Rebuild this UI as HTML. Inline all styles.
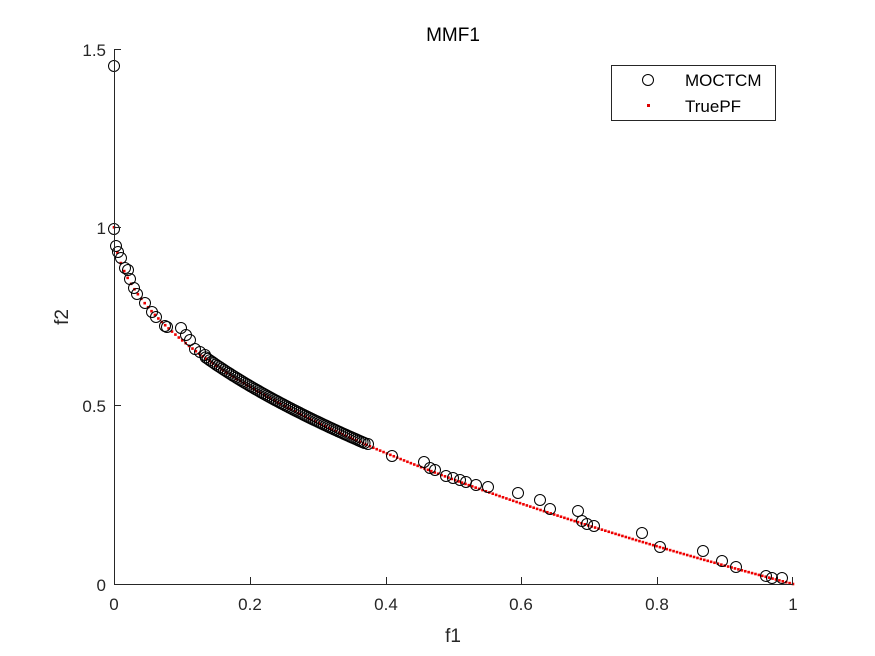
<!DOCTYPE html>
<html><head><meta charset="utf-8"><style>
html,body{margin:0;padding:0;background:#fff;}
svg{display:block;font-family:"Liberation Sans",Arial,sans-serif;}
</style></head><body>
<svg id="s" width="875" height="656" viewBox="0 0 875 656" xmlns="http://www.w3.org/2000/svg">
<rect width="875" height="656" fill="#fff"/>
<g id="pf"></g>
<g id="pts" fill="none" stroke="#000" stroke-width="1"></g>
<g stroke="#262626" stroke-width="1" fill="none">
<line x1="114.5" y1="49" x2="114.5" y2="584.5"/>
<line x1="114" y1="584.5" x2="793" y2="584.5"/>
<line x1="114" y1="49.5" x2="121" y2="49.5"/>
<line x1="114" y1="227.5" x2="121" y2="227.5"/>
<line x1="114" y1="405.5" x2="121" y2="405.5"/>
<line x1="250.5" y1="584" x2="250.5" y2="577"/>
<line x1="386.5" y1="584" x2="386.5" y2="577"/>
<line x1="521.5" y1="584" x2="521.5" y2="577"/>
<line x1="657.5" y1="584" x2="657.5" y2="577"/>
<line x1="792.5" y1="584" x2="792.5" y2="577"/>
</g>
<g font-size="17" fill="#262626" text-anchor="end">
<text x="106" y="56">1.5</text><text x="106" y="234">1</text><text x="106" y="412">0.5</text><text x="106" y="591">0</text>
</g>
<g font-size="17" fill="#262626" text-anchor="middle">
<text x="114" y="610">0</text><text x="250" y="610">0.2</text><text x="386" y="610">0.4</text><text x="521" y="610">0.6</text><text x="657" y="610">0.8</text><text x="793" y="610">1</text>
<text x="453" y="642" font-size="19">f1</text>
<text x="453" y="41" font-size="19" fill="#000">MMF1</text>
</g>
<text transform="translate(68,317) rotate(-90)" font-size="19" fill="#262626" text-anchor="middle">f2</text>
<rect x="611.5" y="65.5" width="164" height="55" fill="#fff" stroke="#262626"/>
<circle cx="648" cy="80" r="5.5" fill="none" stroke="#000"/>
<rect x="647" y="104" width="3" height="3" fill="#d00"/>
<text x="685" y="86" font-size="17" fill="#000">MOCTCM</text>
<text x="685" y="112" font-size="17" fill="#000">TruePF</text>
</svg>
<script>
var X=function(f){return 114+679*f},Y=function(g){return 584-356.7*g};
var ns="http://www.w3.org/2000/svg",pf=document.getElementById('pf'),pts=document.getElementById('pts');
for(var i=0;i<200;i++){var f=i/199,g=1-Math.sqrt(f);var r=document.createElementNS(ns,'rect');
r.setAttribute('x',X(f)-1.3);r.setAttribute('y',Y(g)-1.3);r.setAttribute('width',2.6);r.setAttribute('height',2.6);r.setAttribute('fill','#e00');pf.appendChild(r);}
var P=[[114,66],[114,229],[116,246],[118,252],[121,258],[125,268],[128,270],[130,279],[134,288],[137,294],[145,303],[152,312],[156,317],[165,326],[167,327],[181,328],[186,335],[190,340],[195,349],[200,352],[205,355],[368,444],[392,456],[424,462],[430,468],[435,470],[446,476],[453,478],[460,480],[466,482],[476,485],[488,487],[518,493],[540,500],[550,509],[578,511],[582,521],[587,524],[594,526],[642,533],[660,547],[703,551],[722,561],[736,567],[766,576],[772,578],[782,578]];
for(var f=0.135;f<=0.37;f+=0.003){P.push([X(f),Y(1-Math.sqrt(f))-1]);}
P.forEach(function(p){var c=document.createElementNS(ns,'circle');c.setAttribute('cx',p[0]);c.setAttribute('cy',p[1]);c.setAttribute('r',5.5);pts.appendChild(c);});
</script>
</body></html>
